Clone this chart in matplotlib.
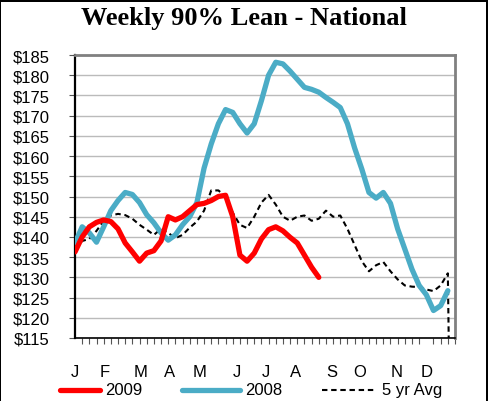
import matplotlib
matplotlib.use("Agg")
import matplotlib.pyplot as plt
from matplotlib.lines import Line2D
from matplotlib.patches import Rectangle
import numpy as np

# ---- data ----
weeks_2009 = list(range(35))
price_2009 = [136.3, 140, 142.5, 143.6, 144.2, 143.8, 142, 138.5, 136.3, 134,
              136, 136.6, 139, 145, 144.2, 145, 146.5, 148, 148.3, 149,
              150, 150.3, 145, 135.5, 134, 136, 139.5, 141.8, 142.5, 141.5,
              139.9, 138.5, 135.5, 132.5, 130]

weeks_2008 = list(range(53))
price_2008 = [138.5, 142.5, 141, 138.7, 142.5, 146.5, 149, 151, 150.5, 148.5,
              145.5, 143.5, 141, 139.2, 140.5, 143, 145, 148.5, 157, 163,
              168, 171.5, 170.8, 168, 165.7, 168, 173.7, 180, 183.2, 182.8,
              181, 179, 177, 176.5, 175.8, 174.5, 173.3, 172, 168, 162,
              156.8, 151, 149.6, 151, 148.3, 142, 137, 132, 128, 125.7,
              121.8, 123, 126.7]

weeks_avg = list(range(54))
price_avg = [137, 139, 139.5, 141.5, 144, 145.3, 145.7, 145.4, 144.5, 143,
             141.8, 140.5, 142, 141, 139.7, 140.5, 142.3, 143.8, 146.5, 151.5,
             151.5, 150, 146, 143, 142.2, 145, 148.5, 150.4, 148, 145,
             144, 145, 145.3, 144, 144.5, 146.5, 145, 145.3, 142, 138,
             134, 131.5, 133, 133.8, 131.5, 129.5, 128, 127.7, 127.6, 127,
             126.6, 128, 131, 0]

month_labels = ["J", "F", "M", "A", "M", "J", "J", "A", "S", "O", "N", "D"]
month_pos = [0, 4.2, 9.2, 13.25, 17.4, 22.6, 26.6, 30.7, 35.8, 39.7, 44.9, 49.0]

y_ticks = list(range(115, 190, 5))
y_labels = ["$%d" % v for v in y_ticks]

series_names = ["2009", "2008", "5 yr Avg"]

# ---- figure ----
W, H = 488, 402
fig = plt.figure(figsize=(W / 100, H / 100), dpi=100, facecolor="black")
fig.add_artist(Rectangle((1 / W, 0), (485.5 - 1) / W, (H - 2.5) / H,
                         transform=fig.transFigure, facecolor="white",
                         edgecolor="none", zorder=-10))

ax = fig.add_axes([75 / W, 1 - 339 / H, (455 - 75) / W, (339 - 56) / H])
ax.set_facecolor("white")

red = "#FF0000"
blue = "#4BACC6"

ax.plot(weeks_avg, price_avg, color="black", lw=1.5, ls=(0, (2.6, 1.8)),
        zorder=3, solid_joinstyle="round")
ax.plot(weeks_2008, price_2008, color=blue, lw=3.8, zorder=4,
        solid_joinstyle="round", solid_capstyle="round")
ax.plot(weeks_2009, price_2009, color=red, lw=3.8, zorder=5,
        solid_joinstyle="round", solid_capstyle="round")

ax.set_xlim(0, 53)
ax.set_ylim(115, 185)
ax.set_yticks(y_ticks)
ax.set_yticklabels(y_labels, fontsize=12, family="Liberation Sans")
ax.yaxis.grid(True, color="#BBBBBB", lw=1.0)
ax.set_axisbelow(True)

ax.set_xticks(month_pos)
ax.set_xticklabels(month_labels, fontsize=12, family="Liberation Sans")
ax.set_xticks(np.arange(0, 54, 1), minor=True)
ax.tick_params(axis="x", which="major", length=0, pad=19)
ax.tick_params(axis="x", which="minor", length=4, width=0.8, direction="out",
               color="#555555")
ax.tick_params(axis="y", which="major", length=4, width=0.8, direction="out",
               pad=14, color="#555555")

for side in ["top", "right"]:
    ax.spines[side].set_color("#808080")
    ax.spines[side].set_linewidth(2)
ax.spines["left"].set_color("black")
ax.spines["left"].set_linewidth(1.6)
ax.spines["bottom"].set_color("black")
ax.spines["bottom"].set_linewidth(1.2)

fig.text(243.5 / W, 1 - 18 / H, "Weekly 90% Lean - National",
         ha="center", va="center", fontsize=19, fontweight="bold",
         family="Liberation Serif")

# ---- legend ----
ly = 1 - 391 / H
legend_items = [
    (60, 100, red, 3.8, "-", series_names[0], 105),
    (182, 240, blue, 3.8, "-", series_names[1], 245),
    (322, 375, "black", 1.5, (0, (2.6, 1.8)), series_names[2], 382),
]
for x0, x1, c, lw, ls, name, tx in legend_items:
    fig.add_artist(Line2D([x0 / W, x1 / W], [ly, ly], transform=fig.transFigure,
                          color=c, lw=lw, ls=ls, solid_capstyle="round"))
    fig.text(tx / W, ly, name, ha="left", va="center", fontsize=12,
             family="Liberation Sans")

fig.savefig("out.png", dpi=100, facecolor="black")
